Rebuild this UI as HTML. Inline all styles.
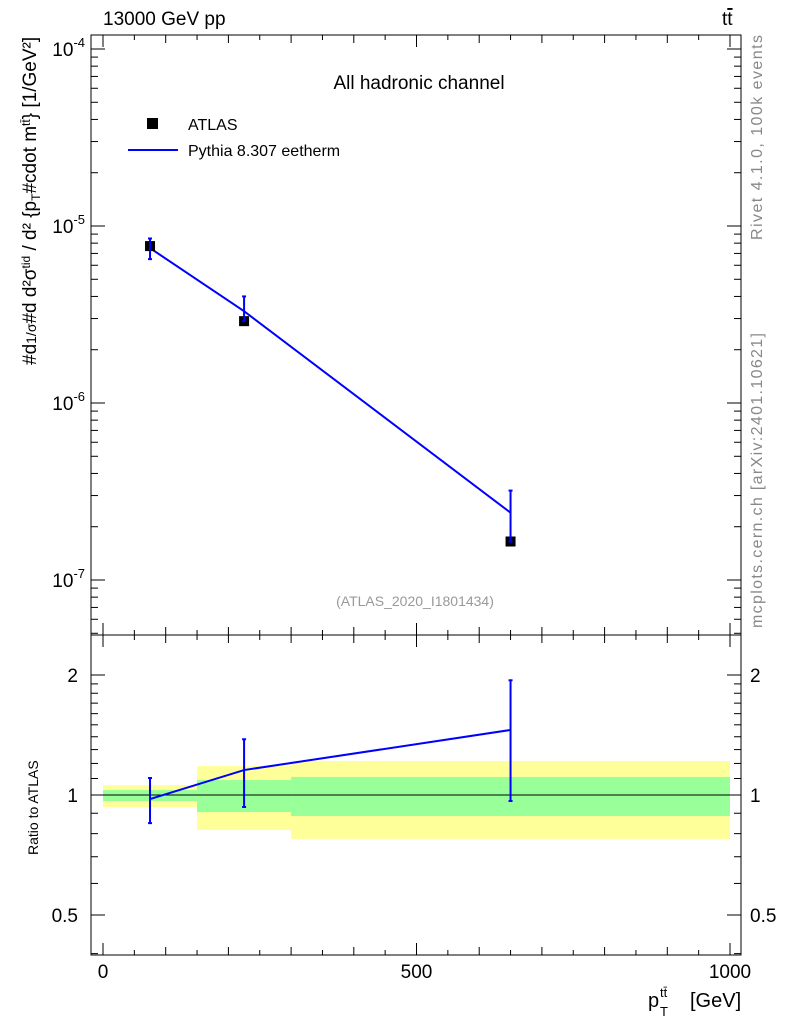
<!DOCTYPE html>
<html><head><meta charset="utf-8"><style>
body{margin:0;background:#fff}
svg{display:block;font-family:"Liberation Sans",sans-serif}
</style></head><body>
<svg id="c" width="786" height="1024" viewBox="0 0 786 1024">
</svg>
<script>
const binEdges=[0,150,300,1000];
const xPoints=[75,225,650];
const atlas=[7.7e-6,2.9e-6,1.65e-7];
const mc=[7.5e-6,3.3e-6,2.4e-7];
const mcUp=[8.5e-6,4.0e-6,3.2e-7];
const mcDn=[6.5e-6,2.9e-6,1.65e-7];
const ratio=[0.977,1.155,1.456];
const ratioUp=[1.103,1.38,1.94];
const ratioDn=[0.85,0.933,0.966];
const yelUp=[1.059,1.182,1.217];
const yelDn=[0.933,0.817,0.776];
const grnUp=[1.029,1.09,1.11];
const grnDn=[0.966,0.906,0.886];
const xTicks=[0,500,1000];

const S=document.getElementById('c');const NS='http://www.w3.org/2000/svg';
function el(t,a,p){const e=document.createElementNS(NS,t);for(const k in a)e.setAttribute(k,a[k]);(p||S).appendChild(e);return e;}
const X=v=>103+v*0.627;
const Y=v=>226-177*Math.log10(v/1e-5);
const R=v=>795-398.6*Math.log10(v);
const L=91,Rt=741,T=35,M=635,B=955;

for(let i=0;i<3;i++){
 let e=el('rect',{x:X(binEdges[i]),y:R(yelUp[i]),width:X(binEdges[i+1])-X(binEdges[i]),height:R(yelDn[i])-R(yelUp[i]),fill:'#ffff99'});
 
 e=el('rect',{x:X(binEdges[i]),y:R(grnUp[i]),width:X(binEdges[i+1])-X(binEdges[i]),height:R(grnDn[i])-R(grnUp[i]),fill:'#99ff99'});
 
}
el('line',{x1:L,x2:Rt,y1:R(1),y2:R(1),stroke:'#000','stroke-width':1});
el('rect',{x:L,y:T,width:Rt-L,height:M-T,fill:'none',stroke:'#000'});
el('rect',{x:L,y:M,width:Rt-L,height:B-M,fill:'none',stroke:'#000'});
for(let v=0;v<=1000;v+=50){const len=v%500==0?12:(v%100==0?8:5);const x=X(v);
 [[B,-1],[M,1],[M,-1],[T,1]].forEach(([y,d])=>el('line',{x1:x,x2:x,y1:y,y2:y+d*len,stroke:'#000'}));}
xTicks.forEach(v=>{const t=el('text',{x:X(v),y:978,'font-size':19,'text-anchor':'middle'});t.textContent=v;});
for(let d=-8;d<=-4;d++)for(let m=1;m<10;m++){const v=m*Math.pow(10,d);const y=Y(v);if(y<T||y>M)continue;const len=m==1?14:7;
 el('line',{x1:L,x2:L+len,y1:y,y2:y,stroke:'#000'});el('line',{x1:Rt,x2:Rt-len,y1:y,y2:y,stroke:'#000'});}
[-4,-5,-6,-7].forEach(d=>{const t=el('text',{x:85,y:Y(Math.pow(10,d))+7,'font-size':19,'text-anchor':'end'});t.innerHTML='10<tspan dy="-9" font-size="13">'+d+'</tspan>';});
[0.4,0.5,0.6,0.7,0.8,0.9,1,1.1,1.2,1.3,1.4,1.5,1.6,1.7,1.8,1.9,2,3].forEach(v=>{const y=R(v);if(y<M||y>B)return;const len=[0.5,1,2].includes(v)?14:7;
 el('line',{x1:L,x2:L+len,y1:y,y2:y,stroke:'#000'});el('line',{x1:Rt,x2:Rt-len,y1:y,y2:y,stroke:'#000'});});
[[2,'2'],[1,'1'],[0.5,'0.5']].forEach(([v,s])=>{let t=el('text',{x:78,y:R(v)+7,'font-size':19,'text-anchor':'end'});t.textContent=s;
 t=el('text',{x:750,y:R(v)+7,'font-size':19});t.textContent=s;});
let p=el('polyline',{points:xPoints.map((x,i)=>X(x)+','+Y(mc[i])).join(' '),fill:'none',stroke:'#0000ff','stroke-width':2});

xPoints.forEach((x,i)=>{const cx=X(x);
 let e=el('rect',{x:cx-5,y:Y(atlas[i])-5,width:10,height:10,fill:'#000'});
 el('line',{x1:cx,x2:cx,y1:Y(mcUp[i]),y2:Y(mcDn[i]),stroke:'#0000ff','stroke-width':2});
 [mcUp[i],mcDn[i]].forEach(v=>el('line',{x1:cx-2,x2:cx+2,y1:Y(v),y2:Y(v),stroke:'#0000ff','stroke-width':2}));
});
p=el('polyline',{points:xPoints.map((x,i)=>X(x)+','+R(ratio[i])).join(' '),fill:'none',stroke:'#0000ff','stroke-width':2});

xPoints.forEach((x,i)=>{const cx=X(x);
 el('line',{x1:cx,x2:cx,y1:R(ratioUp[i]),y2:R(ratioDn[i]),stroke:'#0000ff','stroke-width':2});
 [ratioUp[i],ratioDn[i]].forEach(v=>el('line',{x1:cx-2,x2:cx+2,y1:R(v),y2:R(v),stroke:'#0000ff','stroke-width':2}));
});
function txt(s,a,name){const t=el('text',a);t.innerHTML=s;return t;}
txt('13000 GeV pp',{x:103,y:25,'font-size':19},'energy-label');
txt('t<tspan text-decoration="overline">t</tspan>',{x:722,y:25,'font-size':19},'process-label');
txt('All hadronic channel',{x:419,y:89,'font-size':19,'text-anchor':'middle'},'plot-title');
let e=el('rect',{x:147,y:118,width:11,height:11,fill:'#000'});
txt('ATLAS',{x:188,y:130,'font-size':16},'legend-atlas');
el('line',{x1:128,x2:178,y1:150,y2:150,stroke:'#0000ff','stroke-width':2});
txt('Pythia 8.307 eetherm',{x:188,y:156,'font-size':16},'legend-pythia');
txt('(ATLAS_2020_I1801434)',{x:415,y:606,'font-size':14,fill:'#999','text-anchor':'middle'},'analysis-id');
txt('Rivet 4.1.0,  100k events',{x:0,y:0,'font-size':16,fill:'#888',textLength:205,lengthAdjust:'spacing',transform:'translate(762,240) rotate(-90)'},'rivet-label');
txt('mcplots.cern.ch [arXiv:2401.10621]',{x:0,y:0,'font-size':16,fill:'#888',textLength:295,lengthAdjust:'spacing',transform:'translate(762,628) rotate(-90)'},'mcplots-label');
txt('Ratio to ATLAS',{x:0,y:0,'font-size':14,transform:'translate(38,855) rotate(-90)'},'ratio-y-title');
txt('#d<tspan font-size="14">1/σ</tspan>#d d²σ<tspan font-size="12" dy="-6">tid</tspan><tspan dy="6"> / d² {p</tspan><tspan font-size="12" dy="4">T</tspan><tspan dy="-4">#cdot m</tspan><tspan dy="-6" font-size="12">tt̄</tspan><tspan dy="6">} [1/GeV²]</tspan>',{x:0,y:0,'font-size':19,transform:'translate(36,365) rotate(-90)'},'y-axis-title');
txt('p',{x:648,y:1007,'font-size':20},'x-axis-title');
txt('tt̄',{x:660,y:997,'font-size':13},'x-axis-title-sup');
txt('T',{x:660,y:1016,'font-size':13},'x-axis-title-sub');
txt('[GeV]',{x:690,y:1007,'font-size':20},'x-axis-title-unit');
</script>
</body></html>
